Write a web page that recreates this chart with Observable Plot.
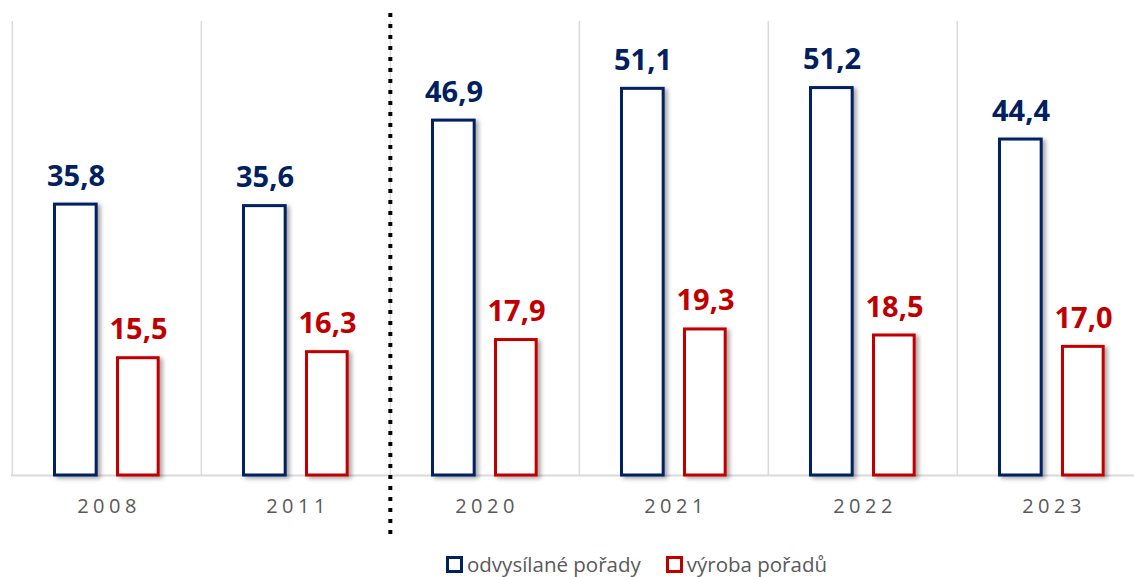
<!DOCTYPE html>
<html><head><meta charset="utf-8">
<script src="https://cdn.jsdelivr.net/npm/d3@7"></script>
<script src="https://cdn.jsdelivr.net/npm/@observablehq/plot@0.6"></script>
<style>
body{margin:0;background:#fff;font-family:"Open Sans",sans-serif;}
#wrap{position:relative;width:1134px;height:577px;overflow:hidden;}
#chart{position:absolute;left:0;top:0;width:1147px;}
#chart svg{max-width:none !important;}
#legend{position:absolute;left:446px;top:553px;display:flex;align-items:center;font-size:20.5px;color:#595959;line-height:22px;white-space:nowrap;font-family:"Open Sans",sans-serif;}
.item{display:flex;align-items:center;margin-right:25px}
.sw{width:11px;height:11px;border:3px solid;margin-right:4px;box-sizing:content-box;background:#fff}
g[aria-label="x-axis tick label"] text{letter-spacing:4.5px;}
</style></head>
<body>
<div id="wrap"><div id="chart"></div><div id="legend"></div></div>
<script>
const years = ["2008","2011","2020","2021","2022","2023"];
const odvysilane = [35.8, 35.6, 46.9, 51.1, 51.2, 44.4];
const vyroba = [15.5, 16.3, 17.9, 19.3, 18.5, 17.0];
const seriesNames = ["odvysílané pořady", "výroba pořadů"];
const colors = ["#002060", "#C00000"];
const breakYear = "2020";

const W = 1147, ML = 11;
const step = (W - ML) / years.length;
const fmt = v => v.toFixed(1).replace(".", ",");
const odvData = years.map((y, i) => ({year: y, series: seriesNames[0], value: odvysilane[i]}));
const vyrData = years.map((y, i) => ({year: y, series: seriesNames[1], value: vyroba[i]}));

const chart = Plot.plot({
  width: W, height: 540,
  marginLeft: ML, marginRight: 0, marginTop: 21, marginBottom: 65,
  style: {fontFamily: "Open Sans", background: "white", maxWidth: "none"},
  x: {domain: years, padding: 0, label: null},
  y: {domain: [0, 60], axis: null},
  marks: [
    Plot.ruleX(years, {x: d => d, dx: -step / 2, stroke: "#d9d9d9", strokeWidth: 1.5}),
    Plot.ruleY([0], {stroke: "#d9d9d9", strokeWidth: 2}),
    Plot.barY(odvData, {x: "year", y: "value", fill: "white", stroke: colors[0], strokeWidth: 3, insetLeft: 42.5, insetRight: step - 84.5}),
    Plot.barY(vyrData, {x: "year", y: "value", fill: "white", stroke: colors[1], strokeWidth: 3, insetLeft: 105.5, insetRight: step - 146.5}),
    Plot.text(odvData, {x: "year", y: "value", text: d => fmt(d.value), dx: -31, dy: -19, lineAnchor: "bottom", fill: colors[0], fontSize: 29, fontWeight: 700}),
    Plot.text(vyrData, {x: "year", y: "value", text: d => fmt(d.value), dx: 31.5, dy: -19, lineAnchor: "bottom", fill: colors[1], fontSize: 29, fontWeight: 700}),
    Plot.ruleX([breakYear], {x: d => d, dx: -step / 2, stroke: "black", strokeWidth: 4, strokeDasharray: "4,7", insetTop: -8, insetBottom: -60}),
    Plot.axisX({tickSize: 0, tickPadding: 23, fontSize: 20, fill: "#595959", dx: 2, label: null})
  ]
});

const svg = d3.select(chart);
const f = svg.insert("defs", ":first-child").append("filter").attr("id", "sh")
  .attr("x", "-30%").attr("y", "-10%").attr("width", "180%").attr("height", "130%");
f.append("feDropShadow").attr("dx", 3).attr("dy", 2).attr("stdDeviation", 2.2)
  .attr("flood-color", "#000").attr("flood-opacity", 0.35);
svg.selectAll('g[aria-label="bar"]').attr("filter", "url(#sh)");

document.getElementById("chart").appendChild(chart);

const legend = d3.select("#legend");
seriesNames.forEach((s, i) => {
  const it = legend.append("div").attr("class", "item");
  it.append("div").attr("class", "sw").style("border-color", colors[i]);
  it.append("span").text(s);
});
</script>
</body></html>
